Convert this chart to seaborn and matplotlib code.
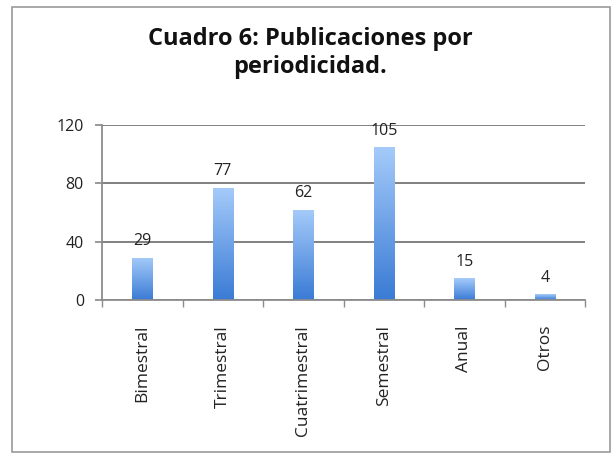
import numpy as np
import pandas as pd
import matplotlib
matplotlib.use("Agg")
import matplotlib.pyplot as plt
import seaborn as sns
from matplotlib.colors import LinearSegmentedColormap
from matplotlib.patches import Rectangle

# Data
categories = ["Bimestral", "Trimestral", "Cuatrimestral", "Semestral", "Anual", "Otros"]
counts = [29, 77, 62, 105, 15, 4]
y_ticks = [0, 40, 80, 120]
title = "Cuadro 6: Publicaciones por\nperiodicidad."

sns.set_theme(style="white")
plt.rcParams["font.family"] = ["Open Sans", "DejaVu Sans"]

df = pd.DataFrame({"periodicidad": categories, "publicaciones": counts})

fig = plt.figure(figsize=(6.16, 4.58), dpi=100)
fig.patch.set_facecolor("white")
# outer chart border
fig.add_artist(Rectangle((12 / 616, 1 - 452 / 458), 598 / 616, 445 / 458,
                         transform=fig.transFigure, fill=False,
                         edgecolor="#9a9a9a", linewidth=1.2))

ax = fig.add_axes([102 / 616, 1 - 300 / 458, 483 / 616, 175 / 458])
sns.barplot(data=df, x="periodicidad", y="publicaciones", color="#5b9bea",
            width=0.25, ax=ax, saturation=1)

# vertical gradient fill clipped to each bar
cmap = LinearSegmentedColormap.from_list("grad", ["#3a7bd5", "#a5cbfa"])
grad = np.linspace(0, 1, 256).reshape(-1, 1)
for bar in ax.patches:
    x0, y0 = bar.get_x(), bar.get_y()
    w, h = bar.get_width(), bar.get_height()
    im = ax.imshow(grad, cmap=cmap, origin="lower", aspect="auto",
                   extent=[x0, x0 + w, y0, y0 + h], zorder=bar.get_zorder())
    im.set_clip_path(bar)
    bar.set_facecolor("none")
    bar.set_edgecolor("none")

ax.set_xlim(-0.5, len(categories) - 0.5)
ax.set_ylim(0, 120)
ax.set_yticks(y_ticks)
ax.yaxis.grid(True, color="#808080", linewidth=1.4)
ax.set_axisbelow(True)
ax.set_xlabel("")
ax.set_ylabel("")

for s in ["top", "right"]:
    ax.spines[s].set_visible(False)
for s in ["left", "bottom"]:
    ax.spines[s].set_color("#8c8c8c")
    ax.spines[s].set_linewidth(1.3)

ax.tick_params(axis="y", left=True, length=5, color="#8c8c8c", labelsize=11.5,
               labelcolor="#222222", pad=8)
ax.set_xticks(range(len(categories)))
ax.set_xticklabels(categories, rotation=90, fontsize=12.5, color="#222222")
ax.tick_params(axis="x", bottom=False, pad=12)
ax.set_xticks(np.arange(-0.5, len(categories), 1), minor=True)
ax.tick_params(axis="x", which="minor", bottom=True, length=5, color="#8c8c8c")

for i, v in enumerate(counts):
    ax.annotate(str(v), (i, v), xytext=(0, 6), textcoords="offset points",
                ha="center", va="bottom", fontsize=11.5, color="#222222")

fig.text(310 / 616, 1 - 53 / 458, title, ha="center", va="center",
         fontsize=17, fontweight="bold", color="#111111", linespacing=1.25)

fig.savefig("out.png", dpi=100)
